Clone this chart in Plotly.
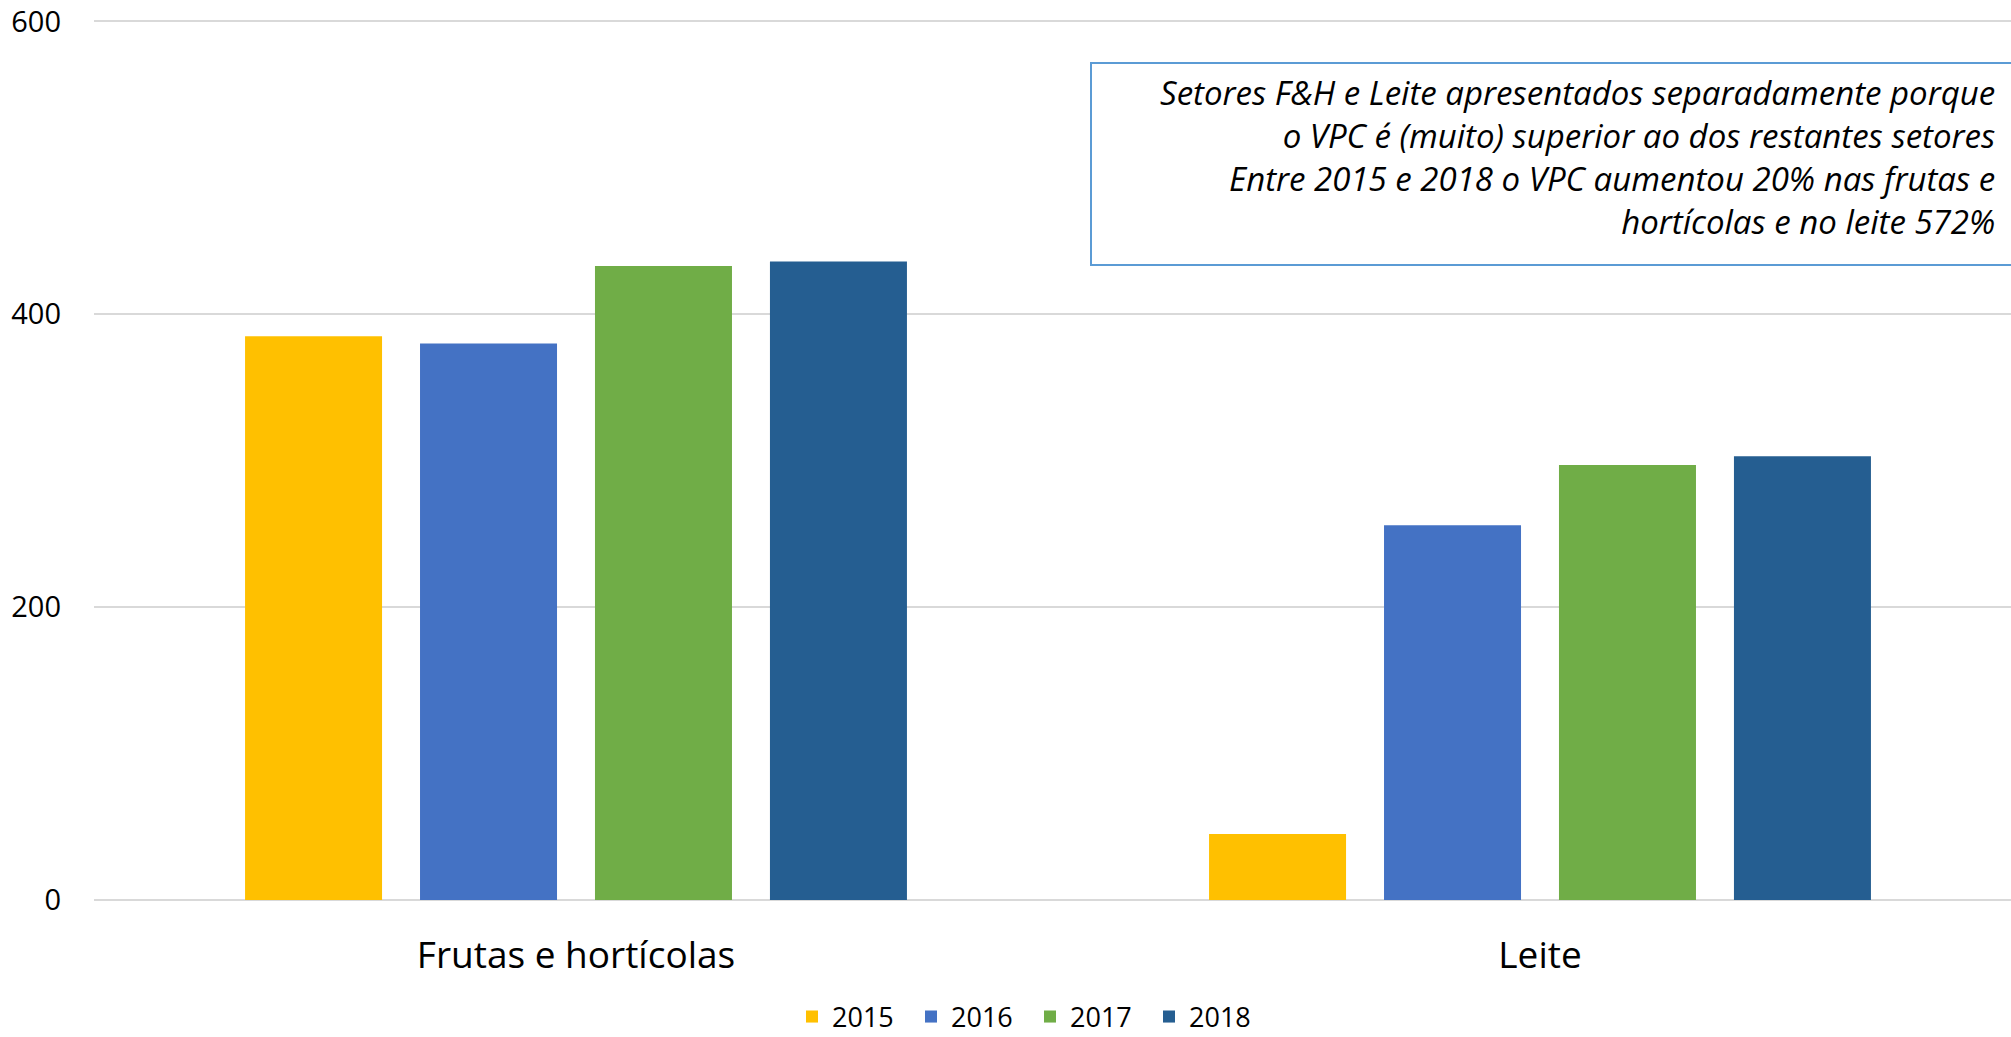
import plotly.graph_objects as go

categories = ["Frutas e hortícolas", "Leite"]
years = ["2015", "2016", "2017", "2018"]
values_2015 = [385, 45]
values_2016 = [380, 256]
values_2017 = [433, 297]
values_2018 = [436, 303]
colors = ["#FFC000", "#4472C4", "#70AD47", "#255E91"]
series = [values_2015, values_2016, values_2017, values_2018]
y_ticks = [0, 200, 400, 600]
note_lines = [
    "Setores F&H e Leite apresentados separadamente porque",
    "o VPC é (muito) superior ao dos restantes setores",
    "Entre 2015 e 2018 o VPC aumentou 20% nas frutas e",
    "hortícolas e no leite 572%",
]

# page body margin is removed below, so figure pixels == window pixels
W, H = 2011, 1037
ML, MR, MT, MB = 94, 0, 20, 137
plot_w = W - ML - MR
plot_h = H - MT - MB          # 880 px, zero line at window y=900
cat_px = 964.0


def py_paper(win_y):
    return ((MT + plot_h) - win_y) / plot_h


def px_paper(win_x):
    return (win_x - ML) / plot_w


fig = go.Figure()
for yr, vals, col in zip(years, series, colors):
    fig.add_trace(go.Bar(name=yr, x=categories, y=vals, marker=dict(color=col, line=dict(width=0))))

fig.update_layout(
    width=W, height=H,
    margin=dict(l=ML, r=MR, t=MT, b=MB, pad=0, autoexpand=False),
    paper_bgcolor="white", plot_bgcolor="white",
    barmode="group", bargap=0.274, bargroupgap=0.217,
    font=dict(family="Open Sans", size=28, color="#000000"),
    showlegend=True,
    legend=dict(orientation="h", x=px_paper(1030), xanchor="center", y=py_paper(1017), yanchor="middle",
                font=dict(size=27), entrywidth=74, entrywidthmode="pixels",
                itemclick=False, traceorder="normal"),
)
fig.update_xaxes(
    range=[-0.5, -0.5 + plot_w / cat_px], automargin=False,
    showgrid=False, showline=False, zeroline=False, ticks="",
    tickfont=dict(size=37), ticklabelstandoff=30,
)
fig.update_yaxes(
    range=[0, 601], tickvals=y_ticks, ticktext=[str(v) for v in y_ticks], automargin=False,
    showgrid=True, gridcolor="#D9D9D9", gridwidth=2,
    zeroline=True, zerolinecolor="#D9D9D9", zerolinewidth=2,
    showline=False, ticks="", tickfont=dict(size=29), ticklabelstandoff=32,
    ticklabeloverflow="allow",
)

# annotation box
fig.add_shape(type="rect", xref="paper", yref="paper",
              x0=px_paper(1091), x1=1.02, y0=py_paper(265), y1=py_paper(63),
              line=dict(color="#5B9BD5", width=2), fillcolor="white", layer="above")
fig.add_annotation(
    xref="paper", yref="paper", x=px_paper(1997), y=py_paper(157),
    xanchor="right", yanchor="middle", align="right", showarrow=False,
    text="<br>".join("<i>" + l + "</i>" for l in note_lines),
    font=dict(family="Open Sans", size=33, color="#000000"),
)

fig.write_html("out.html", config={"displayModeBar": False},
               post_script="document.body.style.margin='0';document.body.style.overflow='hidden';")
